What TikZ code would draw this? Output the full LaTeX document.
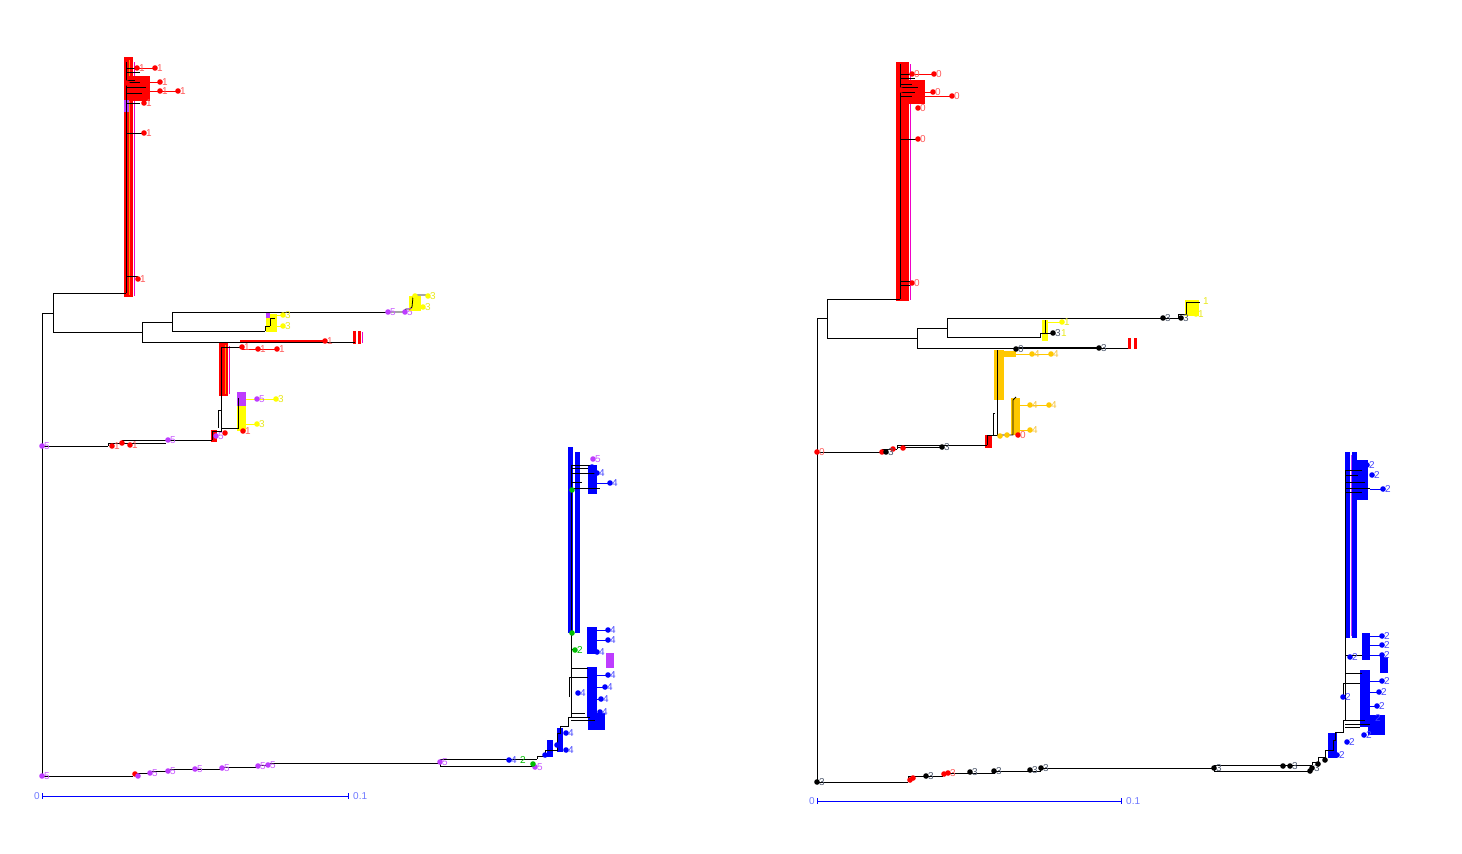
\documentclass[tikz,border=0pt]{standalone}
\usepackage{fontspec}
\setmainfont{Liberation Sans}
\usetikzlibrary{calc}

\definecolor{cred}{RGB}{255,0,0}
\definecolor{lred}{RGB}{255,90,90}
\definecolor{cyel}{RGB}{255,255,0}
\definecolor{lyel}{RGB}{232,232,30}
\definecolor{cpur}{RGB}{190,60,255}
\definecolor{lpur}{RGB}{200,90,255}
\definecolor{cgold}{RGB}{255,200,0}
\definecolor{lgold}{RGB}{245,195,60}
\definecolor{cblu}{RGB}{0,0,255}
\definecolor{lblu}{RGB}{70,70,255}
\definecolor{cgrn}{RGB}{0,190,0}
\definecolor{cmag}{RGB}{240,0,200}
\definecolor{cora}{RGB}{255,150,0}
\definecolor{lgry}{RGB}{80,90,110}
\definecolor{sclb}{RGB}{110,120,255}

\tikzset{
  br/.style={black,line width=0.8pt},
  twig/.style={line width=0.9pt},
  lbl/.style={anchor=west,inner sep=0pt,xshift=2pt,font=\fontsize{10}{10}\selectfont},
}
\newcommand{\tips}[3]{% dot colour, text colour, x/y/label
  \foreach \x/\y/\t in {#3}
    \fill[#1] (\x,\y) circle (2.8pt) node[lbl,text=#2] (#1\x-\y) {\t};}

\begin{document}
\begin{tikzpicture}[x=1pt,y=-1pt]
  \useasboundingbox (0,0) rectangle (1462,854);

  % left tree
  \coordinate (Lroot) at (42,446); \coordinate (La) at (53,313);
  \coordinate (LR1) at (126,293); \coordinate (Lb) at (142,332);
  \coordinate (Lc) at (172,322); \coordinate (Lt1) at (355,342);
  \coordinate (Lt2) at (388,312); \coordinate (Ly1) at (265,331);
  \coordinate (Lp) at (108,446); \coordinate (Lq) at (122,443);
  \coordinate (LR2) at (212,440); \coordinate (Lbot) at (133,776);
  \coordinate (Lm) at (440,763); \coordinate (Lu) at (537,759);
  \coordinate (Lv) at (535,766); \coordinate (LB) at (571,717);

  \fill[cred] (124,57) rectangle (133,297);
  \draw[cora,line width=1pt] (129,60) -- (129,295);
  \draw[cmag,line width=1pt] (134,62) -- (134,296);
  \fill[cred] (128,76) rectangle (150,101);
  \fill[cpur] (124,100) rectangle (129,112);
  \fill[cred] (353,331) rectangle (356,344); \fill[cred] (358,331) rectangle (361,344);
  \draw[cmag,line width=1pt] (362,332) -- (362,343);
  \fill[cyel] (409,296) rectangle (421,311);
  \fill[cyel] (266,314) rectangle (277,332); \fill[cpur] (266,312) rectangle (270,318);
  \fill[cred] (219,343) rectangle (228,396);
  \draw[cora,line width=1pt] (225,345) -- (225,394);
  \draw[cmag,line width=1pt] (229,346) -- (229,394);
  \fill[cred] (211,430) rectangle (217,442);
  \fill[cpur] (237,392) rectangle (246,408); \fill[cyel] (237,406) rectangle (246,431);
  \fill[cblu] (568,447) rectangle (573,633); \fill[cblu] (575,452) rectangle (580,633);
  \fill[cblu] (588,465) rectangle (597,494);
  \fill[cblu] (587,627) rectangle (597,654);
  \fill[cpur] (606,653) rectangle (614,668);
  \fill[cblu] (587,667) rectangle (597,717);
  \fill[cblu] (588,713) rectangle (605,730);
  \fill[cblu] (547,740) rectangle (553,757); \fill[cblu] (557,728) rectangle (563,752);

  \draw[br] (Lroot) |- (La) (Lroot) -- (Lp) (Lroot) |- (Lbot);
  \draw[br] (La) |- (LR1) (La) |- (Lb);
  \draw[br] (Lb) |- (Lc) (Lb) |- (Lt1);
  \draw[br] (Lc) |- (Lt2) (Lc) |- (Ly1);
  \draw[br] (LR1) -- (126,62);
  \foreach \y/\e in {68/137,72/140,80/135,82/140,87/146,93/142,103/140,133/144,276/138}
    \draw[br] (126,\y) -- (\e,\y);
  \draw[cred,twig] (137,68) -- (155,68) (140,82) -- (160,82) (146,91) -- (178,91);
  \draw[br] (Lt2) -- (403,312) -- (406,309) -- (410,309) -- (412,307) -- (413,297) -- (417,295) -- (428,295);
  \draw[br] (Ly1) -- (265,326) -- (270,326) -- (270,318) -- (275,318);
  \draw[cyel,twig] (275,315) -- (283,315) (270,326) -- (283,326);
  \draw[br] (Lp) |- (Lq) (Lq) |- (LR2) (Lq) -- (166,443);
  \draw[br] (LR2) |- (221,431) -- (221,347) -- (242,347);
  \draw[br] (221,428) -- (238,428) -- (238,398);
  \draw[br] (221,410) -- (218,410) -- (218,428);
  \draw[cred,twig] (242,349) -- (277,349);
  \draw[cred,line width=1.2pt] (240,341) -- (325,341);
  \draw[cyel,twig] (246,399) -- (276,399) (246,424) -- (257,424);
  \draw[br] (Lbot) -- (133,773) -- (150,773) -- (150,771) -- (166,771) -- (166,769) -- (222,769)
    -- (222,767) -- (256,767) -- (256,765) -- (267,765) -- (267,763) -- (Lm);
  \draw[br] (Lm) |- (Lu) (Lm) |- (Lv);
  \draw[br] (Lu) -- (537,756) -- (545,756) -- (545,750) -- (557,750) -- (557,733) -- (560,733)
    -- (560,726) -- (568,726) -- (568,717) -- (LB);
  \draw[br] (LB) -- (571,465);
  \foreach \y/\e in {465/592,468/588,473/595,482/582,488/600,649/577,668/588,677/588,713/585,717/590,720/595}
    \draw[br] (571,\y) -- (\e,\y);
  \draw[br] (571,677) -- (569,677) -- (569,697);
  \draw[cblu,twig] (597,483) -- (610,483) (597,630) -- (608,630) (597,640) -- (608,640)
    (597,675) -- (608,675) (597,687) -- (605,687) (597,699) -- (601,699);

  \tips{cred}{lred}{137/68/1,155/68/1,127/83/,160/82/1,160/91/1,178/91/1,144/103/1,144/133/1,
    138/279/1,112/446/1,122/443/,130/445/1,325/341/1,242/347/1,258/349/1,277/349/1,225/433/,243/431/1,135/774/}
  \tips{cpur}{lpur}{42/446/5,42/776/5,388/312/5,405/312/5,168/440/5,257/399/5,150/773/5,168/771/5,
    195/769/5,222/768/5,258/766/5,268/765/5,440/762/5,535/767/5,593/459/5,138/776/,216/436/5}
  \tips{cyel}{lyel}{283/315/3,283/326/3,423/307/3,415/296/,428/296/3,276/399/3,257/424/3}
  \tips{cblu}{lblu}{509/760/4,592/467/,597/473/4,610/483/4,608/630/4,608/640/4,597/652/4,608/675/4,
    605/687/4,601/699/4,600/712/4,578/693/4,566/733/4,566/750/4,545/755/,557/745/}
  \tips{cgrn}{cgrn}{575/650/2,533/764/,572/490/,572/633/}
  \node[lbl,text=cgrn] (g2) at (518,760) {2};

  % right tree
  \coordinate (Rroot) at (817,452); \coordinate (Ra) at (827,318);
  \coordinate (RR1) at (900,299); \coordinate (Rb) at (917,338);
  \coordinate (Rc) at (947,328); \coordinate (Rt1) at (1128,348);
  \coordinate (Rt2) at (1163,318); \coordinate (Ry1) at (1038,337);
  \coordinate (Rp) at (882,452); \coordinate (Rq) at (897,449);
  \coordinate (Rt3) at (942,447); \coordinate (RR2) at (987,445);
  \coordinate (Rbot) at (908,782); \coordinate (Rm) at (1214,768);
  \coordinate (Ru) at (1312,765); \coordinate (Rv) at (1310,771);
  \coordinate (RB) at (1345,720);

  \fill[cred] (896,62) rectangle (909,301);
  \draw[cmag,line width=1pt] (910,64) -- (910,300);
  \fill[cred] (903,80) rectangle (925,104);
  \fill[cred] (1128,338) rectangle (1131,349); \fill[cred] (1134,338) rectangle (1137,349);
  \fill[cyel] (1185,300) rectangle (1199,316);
  \fill[cyel] (1042,320) rectangle (1048,341);
  \fill[cgold] (994,350) rectangle (1004,400);
  \fill[cgold] (1000,351) rectangle (1016,357);
  \fill[cgold] (1011,398) rectangle (1020,435);
  \fill[cred] (985,435) rectangle (992,448);
  \fill[cblu] (1345,452) rectangle (1350,638); \fill[cblu] (1352,452) rectangle (1357,638);
  \draw[cpur,line width=0.8pt] (1351,455) -- (1351,636);
  \fill[cblu] (1355,460) rectangle (1368,500);
  \fill[cblu] (1362,633) rectangle (1370,660);
  \fill[cblu] (1380,657) rectangle (1388,673);
  \fill[cblu] (1360,670) rectangle (1370,727);
  \fill[cblu] (1368,715) rectangle (1385,735);
  \fill[cblu] (1328,733) rectangle (1337,758);

  \draw[br] (Rroot) |- (Ra) (Rroot) -- (Rp) (Rroot) |- (Rbot);
  \draw[br] (Ra) |- (RR1) (Ra) |- (Rb);
  \draw[br] (Rb) |- (Rc) (Rb) |- (Rt1);
  \draw[br] (Rc) |- (Rt2) (Rc) |- (Ry1);
  \draw[br,line width=2pt] (1016,348) -- (1099,348);
  \draw[br] (RR1) -- (900,64);
  \foreach \y/\e in {74/912,78/915,84/912,87/918,92/915,96/912,139/918,281/912,285/910}
    \draw[br] (900,\y) -- (\e,\y);
  \draw[cred,twig] (912,74) -- (934,74) (915,92) -- (933,92) (912,96) -- (952,96);
  \draw[br] (Rt2) -- (1178,318) -- (1178,314) -- (1186,314) -- (1186,302) -- (1200,302);
  \draw[br] (Ry1) -- (1040,337) -- (1040,333) -- (1053,333) (1045,333) -- (1045,320);
  \draw[cyel,twig] (1048,322) -- (1062,322) (1199,314) -- (1196,314);
  \draw[br] (Rp) |- (Rq) (Rq) |- (Rt3) (Rq) |- (RR2);
  \draw[br] (RR2) |- (997,435) -- (997,350);
  \draw[br] (997,435) -- (1013,435) -- (1013,400) -- (1016,397);
  \draw[br] (995,413) -- (993,413) -- (993,435);
  \draw[cgold,twig] (1004,354) -- (1051,354) (1020,405) -- (1049,405) (1020,430) -- (1030,430);
  \draw[br] (Rbot) -- (908,776) -- (942,776) -- (942,773) -- (994,773) -- (994,771) -- (1040,771)
    -- (1040,768) -- (Rm);
  \draw[br] (Rm) |- (Ru) (Rm) |- (Rv);
  \draw[br] (Ru) -- (1312,762) -- (1318,762) -- (1318,757) -- (1325,757) -- (1325,750) -- (1333,750)
    -- (1333,740) -- (1335,740) -- (1335,732) -- (1343,732) -- (1343,720) -- (RB);
  \draw[br] (RB) -- (1345,470);
  \foreach \y/\e in {470/1362,475/1358,482/1365,488/1370,492/1362,655/1362,673/1362,683/1360,720/1365,724/1370,727/1360}
    \draw[br] (1345,\y) -- (\e,\y);
  \draw[br] (1345,683) -- (1343,683) -- (1343,697);
  \draw[cblu,twig] (1370,489) -- (1383,489) (1370,636) -- (1382,636) (1370,645) -- (1382,645)
    (1370,655) -- (1382,655) (1370,681) -- (1382,681) (1370,692) -- (1379,692) (1370,706) -- (1377,706);

  \tips{cred}{lred}{912/74/0,934/74/0,901/90/,933/92/0,952/96/0,918/108/0,918/139/0,912/283/0,
    817/452/0,882/452/,893/449/,903/448/,1018/435/0,910/780/,913/778/,944/774/,948/773/3}
  \tips{black}{lgry}{1163/318/3,1181/318/3,1053/333/3,1016/349/0,1099/348/3,886/452/3,942/447/3,
    817/782/3,926/776/3,970/772/3,994/771/3,1030/770/3,1041/768/3,1214/768/3,1283/766/,
    1290/766/3,1310/771/,1312/768/3,1318/764/,1325/760/}
  \tips{cyel}{lyel}{1062/322/1,1196/314/1}
  \node[lbl,text=lyel] (y1) at (1201,301) {1};
  \node[lbl,text=lyel] (y2) at (1059,333) {1};
  \tips{cgold}{lgold}{1013/354/,1032/354/4,1051/354/4,1030/405/4,1049/405/4,1030/430/4,1000/436/,1007/435/}
  \tips{cblu}{lblu}{1367/465/2,1372/475/2,1383/489/2,1364/497/,1382/636/2,1382/645/2,1382/655/2,
    1350/657/2,1382/681/2,1379/692/2,1377/706/2,1373/718/2,1364/735/2,1347/742/2,1337/755/2,1343/697/2}

  % scale bars
  \coordinate (sL0) at (42,796); \coordinate (sL1) at (348,796);
  \coordinate (sR0) at (817,801); \coordinate (sR1) at (1121,801);
  \foreach \a/\b in {sL0/sL1,sR0/sR1} {
    \draw[cblu,line width=0.8pt] (\a) -- (\b);
    \draw[cblu,line width=0.8pt] ($(\a)+(0,-3)$) -- ($(\a)+(0,3)$) ($(\b)+(0,-3)$) -- ($(\b)+(0,3)$);
    \node[lbl,text=sclb,anchor=east,xshift=-4pt] (\a t) at (\a) {0};
    \node[lbl,text=sclb,xshift=3pt] (\b t) at (\b) {0.1};
  }
\end{tikzpicture}
\end{document}
